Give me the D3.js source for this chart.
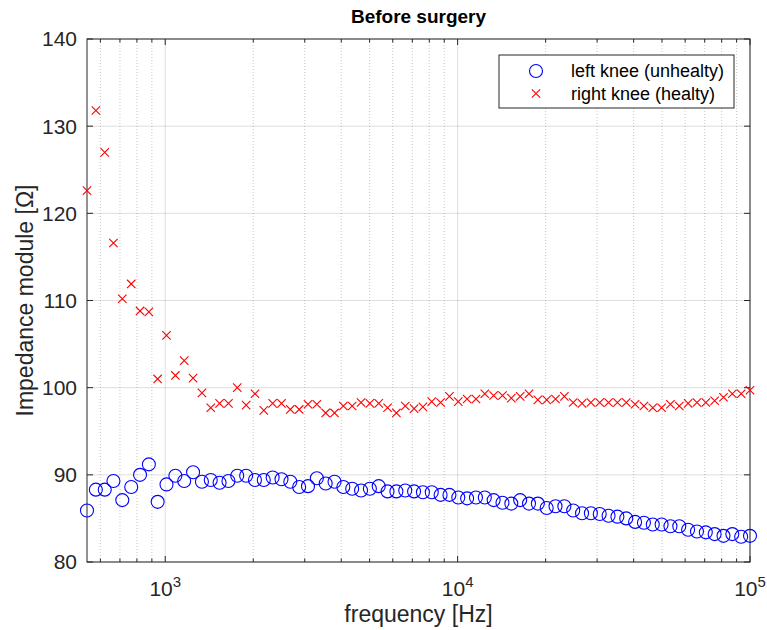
<!DOCTYPE html>
<html>
<head>
<meta charset="utf-8">
<script src="https://cdn.jsdelivr.net/npm/d3@7"></script>
<style>
  body { margin: 0; background: #fff; }
  svg { display: block; font-family: Arial, "Liberation Sans", Helvetica, sans-serif; }
</style>
</head>
<body>
<div id="chart"></div>
<script>
// measured frequencies [Hz]
const freqs = [540, 579, 621, 665, 713, 765, 820, 879, 942, 1010,
  1083, 1161, 1245, 1335, 1431, 1534, 1645, 1763, 1891, 2027,
  2173, 2330, 2498, 2678, 2871, 3078, 3300, 3538, 3793, 4066,
  4359, 4674, 5011, 5372, 5759, 6174, 6620, 7097, 7609, 8157,
  8745, 9376, 10052, 10777, 11554, 12387, 13280, 14237, 15264, 16364,
  17544, 18809, 20165, 21619, 23178, 24849, 26641, 28562, 30621, 32829,
  35196, 37734, 40454, 43371, 46498, 49851, 53445, 57298, 61429, 65859,
  70607, 75698, 81156, 87007, 93280, 100000];

// left knee (unhealty) impedance module [Ohm]
const leftKnee = [85.9, 88.3, 88.3, 89.3, 87.1, 88.6, 90.0, 91.2, 86.9, 88.9,
  89.9, 89.3, 90.3, 89.2, 89.4, 89.1, 89.3, 89.9, 89.9, 89.4,
  89.4, 89.7, 89.5, 89.2, 88.6, 88.7, 89.6, 89.0, 89.2, 88.6,
  88.4, 88.2, 88.4, 88.7, 88.1, 88.1, 88.2, 88.1, 88.0, 88.0,
  87.7, 87.7, 87.4, 87.3, 87.4, 87.4, 87.1, 86.8, 86.7, 87.1,
  86.7, 86.7, 86.2, 86.4, 86.4, 85.9, 85.6, 85.6, 85.5, 85.3,
  85.2, 85.0, 84.6, 84.5, 84.3, 84.3, 84.1, 84.1, 83.7, 83.5,
  83.4, 83.2, 83.0, 83.2, 82.9, 83.0];

// right knee (healty) impedance module [Ohm]
const rightKnee = [122.6, 131.8, 127.0, 116.6, 110.2, 111.9, 108.8, 108.7, 101.0, 106.0,
  101.4, 103.1, 101.1, 99.4, 97.7, 98.2, 98.2, 100.0, 98.0, 99.3,
  97.4, 98.2, 98.2, 97.5, 97.5, 98.1, 98.1, 97.1, 97.1, 97.9,
  97.9, 98.3, 98.2, 98.2, 97.7, 97.1, 97.9, 97.6, 97.8, 98.4,
  98.3, 99.0, 98.4, 98.7, 98.7, 99.3, 99.1, 99.1, 98.8, 99.0,
  99.3, 98.6, 98.6, 98.7, 99.0, 98.3, 98.2, 98.3, 98.3, 98.3,
  98.3, 98.3, 98.1, 97.9, 97.7, 97.7, 98.1, 97.9, 98.2, 98.3,
  98.3, 98.5, 98.9, 99.3, 99.3, 99.7];

const yTicks = [80, 90, 100, 110, 120, 130, 140];
const xMajor = [1e3, 1e4, 1e5];
const xMinor = [600, 700, 800, 900, 2000, 3000, 4000, 5000, 6000, 7000, 8000, 9000,
  20000, 30000, 40000, 50000, 60000, 70000, 80000, 90000];

const seriesNames = ["left knee (unhealty)", "right knee (healty)"];

const W = 767, H = 630;
const margin = { top: 39, right: 17, bottom: 68, left: 87 };
const iw = W - margin.left - margin.right;
const ih = H - margin.top - margin.bottom;
const axisColor = "#262626";

const x = d3.scaleLog().domain([540, 1e5]).range([0, iw]);
const y = d3.scaleLinear().domain([80, 140]).range([ih, 0]);

const svg = d3.select("#chart").append("svg")
  .attr("width", W).attr("height", H);

const g = svg.append("g").attr("transform", `translate(${margin.left},${margin.top})`);

// grid
g.append("g").selectAll("line").data(xMinor).join("line")
  .attr("x1", d => x(d)).attr("x2", d => x(d))
  .attr("y1", 0).attr("y2", ih)
  .attr("stroke", axisColor).attr("stroke-opacity", 0.25)
  .attr("stroke-dasharray", "1,2");

g.append("g").selectAll("line").data(xMajor).join("line")
  .attr("x1", d => x(d)).attr("x2", d => x(d))
  .attr("y1", 0).attr("y2", ih)
  .attr("stroke", axisColor).attr("stroke-opacity", 0.15);

g.append("g").selectAll("line").data(yTicks).join("line")
  .attr("x1", 0).attr("x2", iw)
  .attr("y1", d => y(d)).attr("y2", d => y(d))
  .attr("stroke", axisColor).attr("stroke-opacity", 0.15);

// ticks (inward, on all four sides)
const ticks = g.append("g").attr("stroke", axisColor).attr("stroke-width", 1);
xMajor.concat(xMinor).forEach(d => {
  const len = xMajor.includes(d) ? 6 : 3.5;
  ticks.append("line").attr("x1", x(d)).attr("x2", x(d)).attr("y1", ih).attr("y2", ih - len);
  ticks.append("line").attr("x1", x(d)).attr("x2", x(d)).attr("y1", 0).attr("y2", len);
});
yTicks.forEach(d => {
  ticks.append("line").attr("x1", 0).attr("x2", 6).attr("y1", y(d)).attr("y2", y(d));
  ticks.append("line").attr("x1", iw).attr("x2", iw - 6).attr("y1", y(d)).attr("y2", y(d));
});

// box
g.append("rect").attr("width", iw).attr("height", ih)
  .attr("fill", "none").attr("stroke", axisColor).attr("stroke-width", 1);

// tick labels
g.append("g").selectAll("text").data(yTicks).join("text")
  .attr("x", -10).attr("y", d => y(d)).attr("dy", "0.35em")
  .attr("text-anchor", "end").attr("fill", axisColor)
  .style("font-size", "21px").text(d => d);

const xl = g.append("g").selectAll("text").data(xMajor).join("text")
  .attr("x", d => x(d)).attr("y", ih + 34)
  .attr("text-anchor", "middle").attr("fill", axisColor)
  .style("font-size", "21px");
xl.append("tspan").text("10");
xl.append("tspan").attr("dy", -9).style("font-size", "15px").text(d => Math.round(Math.log10(d)));

// axis labels and title
svg.append("text")
  .attr("x", margin.left + iw / 2).attr("y", H - 8)
  .attr("text-anchor", "middle").attr("fill", axisColor)
  .style("font-size", "23px").text("frequency [Hz]");

svg.append("text")
  .attr("transform", `translate(33,${margin.top + ih / 2}) rotate(-90)`)
  .attr("text-anchor", "middle").attr("fill", axisColor)
  .style("font-size", "23px").text("Impedance module [Ω]");

svg.append("text")
  .attr("x", margin.left + iw / 2).attr("y", 23)
  .attr("text-anchor", "middle").attr("fill", "#000")
  .style("font-size", "19px").style("font-weight", "bold").text("Before surgery");

// data
const plot = g.append("g");
plot.selectAll("circle").data(leftKnee).join("circle")
  .attr("cx", (d, i) => x(freqs[i])).attr("cy", d => y(d))
  .attr("r", 6.5).attr("fill", "none").attr("stroke", "#0000ff").attr("stroke-width", 1.1);

const cross = 4.2;
plot.selectAll("path.cross").data(rightKnee).join("path")
  .attr("class", "cross")
  .attr("transform", (d, i) => `translate(${x(freqs[i])},${y(d)})`)
  .attr("d", `M${-cross},${-cross}L${cross},${cross}M${-cross},${cross}L${cross},${-cross}`)
  .attr("stroke", "#ff0000").attr("stroke-width", 1.1).attr("fill", "none");

// legend
const lg = svg.append("g").attr("transform", "translate(499,55)");
lg.append("rect").attr("width", 235).attr("height", 53)
  .attr("fill", "#fff").attr("stroke", axisColor).attr("stroke-width", 1);
lg.append("circle").attr("cx", 37).attr("cy", 16).attr("r", 6.5)
  .attr("fill", "none").attr("stroke", "#0000ff").attr("stroke-width", 1.1);
lg.append("path").attr("transform", "translate(37,38.5)")
  .attr("d", `M${-cross},${-cross}L${cross},${cross}M${-cross},${cross}L${cross},${-cross}`)
  .attr("stroke", "#ff0000").attr("stroke-width", 1.1);
lg.selectAll("text.item").data(seriesNames).join("text")
  .attr("class", "item")
  .attr("x", 72).attr("y", (d, i) => 16 + i * 22.5).attr("dy", "0.35em")
  .attr("fill", "#000").style("font-size", "18px").text(d => d);
</script>
</body>
</html>
